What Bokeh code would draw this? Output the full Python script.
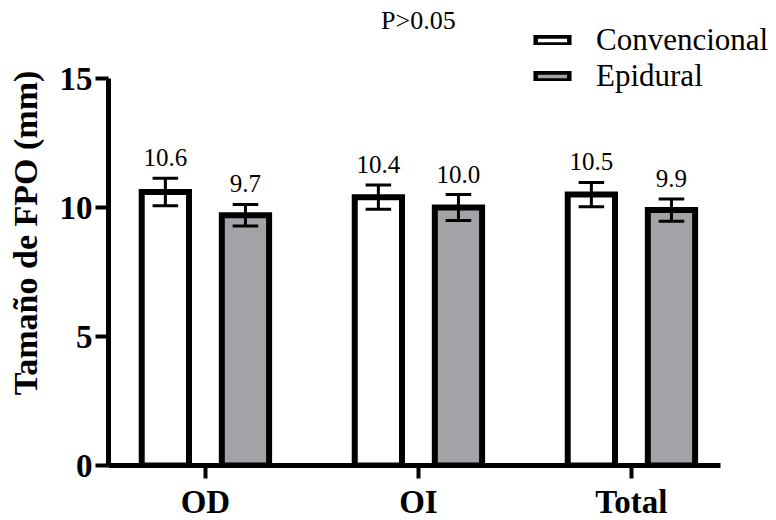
from bokeh.plotting import figure
from bokeh.models import (Range1d, FixedTicker, Legend, LegendItem, ColumnDataSource,
                          LabelSet, Label)
from bokeh.core.properties import value
from bokeh.embed import file_html
from bokeh.resources import INLINE

categories = ["OD", "OI", "Total"]
series_names = ["Convencional", "Epidural"]
conv_mean = [10.6, 10.4, 10.5]
conv_err = [0.53, 0.47, 0.47]
epi_mean = [9.7, 10.0, 9.9]
epi_err = [0.42, 0.50, 0.43]
y_ticks = [0, 5, 10, 15]
annotation_text = "P>0.05"

FONT = "Liberation Serif"
GREY = "#a3a2a7"

X0, X1 = -0.455, 2.418      # visible axis extent
Y_TOP = 15
FW, FH = 660, 465

p = figure(frame_width=FW, frame_height=FH, output_backend="svg", toolbar_location=None,
           x_range=Range1d(X0, X0 + FW / 213.0), y_range=Range1d(0, FH / 25.8),
           min_border_left=108, min_border_right=0, min_border_top=0,
           min_border_bottom=0)
p.outline_line_color = None
p.grid.grid_line_color = None
p.background_fill_color = "white"

off = 0.188
bw = 0.222
cap = 0.06
xs = list(range(len(categories)))

def make_src(means, errs, shift):
    x = [i + shift for i in xs]
    return ColumnDataSource(dict(
        x=x, top=means,
        up=[m + e for m, e in zip(means, errs)],
        lo=[m - e for m, e in zip(means, errs)],
        cl=[xx - cap for xx in x], cr=[xx + cap for xx in x],
        lab=["%.1f" % m for m in means]))

src_c = make_src(conv_mean, conv_err, -off)
src_e = make_src(epi_mean, epi_err, off)

p.vbar(x="x", top="top", bottom=0, width=bw, source=src_c,
       fill_color="white", line_color="black", line_width=6, line_join="miter")
p.vbar(x="x", top="top", bottom=0, width=bw, source=src_e,
       fill_color=GREY, line_color="black", line_width=6, line_join="miter")

# legend-only swatches (hidden renderers, thinner outline)
l_c = p.vbar(x="x", top="top", bottom=0, width=bw, source=src_c, fill_color="white",
             line_color="black", line_width=4.5, line_join="miter", visible=False)
l_e = p.vbar(x="x", top="top", bottom=0, width=bw, source=src_e, fill_color=GREY,
             line_color="black", line_width=4.5, line_join="miter", visible=False)

for s in (src_c, src_e):
    p.segment(x0="x", y0="lo", x1="x", y1="up", source=s, line_color="black", line_width=3)
    p.segment(x0="cl", y0="up", x1="cr", y1="up", source=s, line_color="black", line_width=3)
    p.segment(x0="cl", y0="lo", x1="cr", y1="lo", source=s, line_color="black", line_width=3)
    p.add_layout(LabelSet(x="x", y="up", text="lab", source=s, text_align="center",
                          text_baseline="alphabetic", y_offset=12,
                          text_font=value(FONT), text_font_size=value("25px"),
                          text_color="black"))

# axes
p.xaxis.ticker = FixedTicker(ticks=xs)
p.xaxis.major_label_overrides = {i: c for i, c in enumerate(categories)}
p.xaxis.bounds = (X0, X1)
p.yaxis.ticker = FixedTicker(ticks=y_ticks)
p.yaxis.bounds = (0, Y_TOP)
for ax in (p.xaxis, p.yaxis):
    ax.axis_line_width = 5
    ax.axis_line_color = "black"
    ax.major_tick_line_width = 4
    ax.major_tick_line_color = "black"
    ax.major_tick_out = 13
    ax.major_tick_in = 0
    ax.minor_tick_line_color = None
    ax.major_label_text_font = FONT
    ax.major_label_text_font_style = "bold"
    ax.major_label_text_font_size = "33px"
    ax.major_label_text_color = "black"
p.xaxis.major_label_standoff = 5
p.yaxis.major_label_standoff = 3
p.yaxis.axis_label = "Tamaño de FPO (mm)"
p.yaxis.axis_label_text_font = FONT
p.yaxis.axis_label_text_font_style = "bold"
p.yaxis.axis_label_text_font_size = "34px"
p.yaxis.axis_label_text_color = "black"
p.yaxis.axis_label_standoff = 13

p.add_layout(Label(x=1, y=Y_TOP, text=annotation_text, text_align="center",
                   text_baseline="alphabetic", y_offset=58, text_font=FONT,
                   text_font_size="26px", text_color="black"))

legend = Legend(items=[LegendItem(label=series_names[0], renderers=[l_c]),
                       LegendItem(label=series_names[1], renderers=[l_e])],
                location=(423, 371), padding=0, margin=0, spacing=0,
                border_line_color=None, background_fill_alpha=0,
                inactive_fill_alpha=0,
                glyph_width=42, glyph_height=10, label_standoff=23,
                label_text_font=FONT, label_text_font_size="31px",
                label_text_color="black", label_height=33)
p.add_layout(legend, "center")

open("out.html", "w").write(file_html(p, INLINE))
